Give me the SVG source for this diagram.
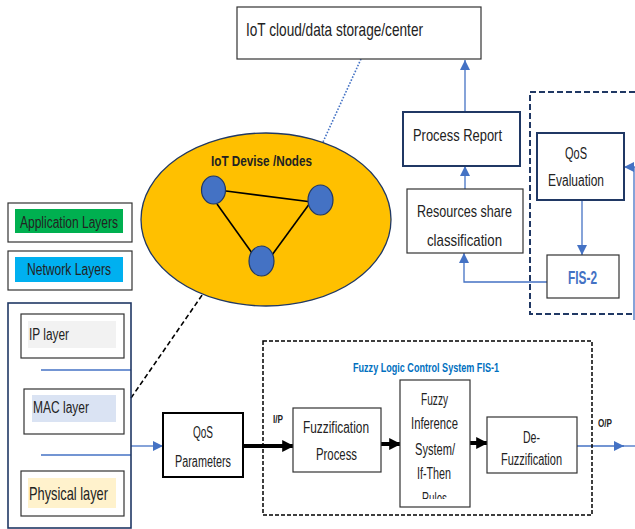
<svg xmlns="http://www.w3.org/2000/svg" width="635" height="529" viewBox="0 0 635 529">
<defs>
<style>
text{font-family:"Liberation Sans",Arial,sans-serif;fill:#222;}
.box{fill:#fff;stroke:#333;stroke-width:1.2;}
.nbox{fill:#fff;stroke:#203864;stroke-width:2;}
.blue{stroke:#4472C4;stroke-width:1.3;fill:none;}
.thick{stroke:#000;stroke-width:4;fill:none;}
.c{text-anchor:middle;}
.t16{font-size:16px;}
.t17{font-size:17px;}
</style>
<marker id="ab" viewBox="0 0 10 10" refX="10" refY="5" markerWidth="10" markerHeight="10" markerUnits="userSpaceOnUse" orient="auto">
<path d="M0,0 L10,5 L0,10 z" fill="#4472C4"/>
</marker>
<marker id="ak" viewBox="0 0 10 10" refX="9" refY="5" markerWidth="3" markerHeight="3.2" orient="auto">
<path d="M0,0 L10,5 L0,10 z" fill="#000"/>
</marker>
<clipPath id="cl"><rect x="400" y="380" width="70" height="119"/></clipPath>
</defs>
<rect width="635" height="529" fill="#fff"/>

<g id="connectors">
<line x1="131" y1="398" x2="207" y2="288" stroke="#000" stroke-width="1.6" stroke-dasharray="5,3"/>
<line x1="361" y1="59" x2="323" y2="142" stroke="#4472C4" stroke-width="1.6" stroke-dasharray="1.6,1.6"/>
<line x1="41" y1="370" x2="131" y2="370" class="blue"/>
<line x1="41" y1="455" x2="131" y2="455" class="blue"/>
<line x1="131" y1="446" x2="163" y2="446" class="blue" marker-end="url(#ab)"/>
<line x1="243" y1="446" x2="293" y2="446" class="thick" marker-end="url(#ak)"/>
<line x1="381" y1="444" x2="400" y2="444" class="thick" marker-end="url(#ak)"/>
<line x1="470" y1="443" x2="487" y2="443" class="thick" marker-end="url(#ak)"/>
<line x1="577" y1="446" x2="624" y2="446" class="blue" marker-end="url(#ab)"/>
<line x1="622" y1="446" x2="635" y2="446" class="blue"/>
<line x1="465" y1="112" x2="465" y2="60" class="blue" marker-end="url(#ab)"/>
<line x1="465" y1="189" x2="465" y2="166" class="blue" marker-end="url(#ab)"/>
<polyline points="547,282 464,282 464,253" class="blue" marker-end="url(#ab)"/>
<line x1="582" y1="200" x2="582" y2="255" class="blue" marker-end="url(#ab)"/>
<line x1="635" y1="167" x2="624" y2="167" class="blue" marker-end="url(#ab)"/>
<line x1="634" y1="167" x2="634" y2="320" class="blue"/>
</g>

<g id="app-layers">
<rect x="8" y="203" width="124" height="39" class="box"/>
<rect x="15" y="209" width="108" height="24" fill="#00B050"/>
<text x="20" y="228" class="t16" textLength="98" lengthAdjust="spacingAndGlyphs">Application Layers</text>
</g>
<g id="net-layers">
<rect x="8" y="251" width="124" height="39" class="box"/>
<rect x="15" y="257" width="108" height="25" fill="#00B0F0"/>
<text x="27" y="275" class="t16" textLength="84" lengthAdjust="spacingAndGlyphs">Network Layers</text>
</g>
<g id="layer-stack">
<rect x="8" y="303" width="123" height="225" fill="none" stroke="#203864" stroke-width="1.6"/>
</g>
<g id="ip-layer">
<rect x="21" y="314" width="103" height="44" class="box"/>
<rect x="28" y="321" width="88" height="27" fill="#F2F2F2"/>
<text x="29" y="340" class="t16" textLength="40" lengthAdjust="spacingAndGlyphs">IP layer</text>
</g>
<g id="mac-layer">
<rect x="24" y="389" width="100" height="45" class="box"/>
<rect x="32" y="395" width="84" height="27" fill="#DAE3F3"/>
<text x="33" y="413" class="t16" textLength="56" lengthAdjust="spacingAndGlyphs">MAC layer</text>
</g>
<g id="phy-layer">
<rect x="21" y="471" width="103" height="45" class="box"/>
<rect x="28" y="478" width="88" height="30" fill="#FFF2CC"/>
<text x="29" y="500" style="font-size:19px" textLength="79" lengthAdjust="spacingAndGlyphs">Physical layer</text>
</g>

<g id="iot-nodes">
<ellipse cx="266" cy="219.5" rx="125" ry="86.5" fill="#FFC000" stroke="#203864" stroke-width="1.3"/>
<text x="211" y="166" style="font-size:15px;font-weight:bold" textLength="101" lengthAdjust="spacingAndGlyphs">IoT Devise /Nodes</text>
<g stroke="#000" stroke-width="1.6">
<line x1="226" y1="191" x2="312" y2="202"/>
<line x1="217" y1="204" x2="252" y2="253"/>
<line x1="272" y1="255" x2="310" y2="203"/>
</g>
<g fill="#4472C4" stroke="#203864" stroke-width="1.2">
<ellipse cx="213.5" cy="190" rx="12" ry="14"/>
<ellipse cx="320.5" cy="200" rx="12.5" ry="15"/>
<ellipse cx="261.5" cy="261" rx="12.5" ry="15"/>
</g>
</g>

<g id="cloud">
<rect x="237" y="7" width="244" height="52" class="box"/>
<text x="246" y="36" style="font-size:19px" textLength="177" lengthAdjust="spacingAndGlyphs">IoT cloud/data storage/center</text>
</g>

<g id="process-report">
<rect x="403" y="112" width="117" height="54" class="nbox"/>
<text x="413" y="141" class="t17" textLength="89" lengthAdjust="spacingAndGlyphs">Process Report</text>
</g>
<g id="resources">
<rect x="407" y="189" width="116" height="64" class="box"/>
<text x="417" y="217" class="t17" textLength="95" lengthAdjust="spacingAndGlyphs">Resources share</text>
<text x="427" y="246" class="t17" textLength="75" lengthAdjust="spacingAndGlyphs">classification</text>
</g>

<g id="fis2-group">
<rect x="530" y="92" width="120" height="222" fill="none" stroke="#203864" stroke-width="2" stroke-dasharray="6,3"/>
</g>
<g id="qos-eval">
<rect x="537" y="133" width="87" height="67" class="nbox"/>
<text x="565" y="159" class="t16" textLength="22" lengthAdjust="spacingAndGlyphs">QoS</text>
<text x="548" y="186" class="t16" textLength="56" lengthAdjust="spacingAndGlyphs">Evaluation</text>
</g>
<g id="fis2">
<rect x="547" y="255" width="72" height="43" class="box"/>
<text x="568" y="284" style="font-size:19px;font-weight:bold;fill:#4472C4" textLength="29" lengthAdjust="spacingAndGlyphs">FIS-2</text>
</g>

<g id="qos-params">
<rect x="163" y="413" width="80" height="64" fill="#fff" stroke="#000" stroke-width="2"/>
<text x="193" y="438" class="t16" textLength="20" lengthAdjust="spacingAndGlyphs">QoS</text>
<text x="175" y="467" class="t16" textLength="56" lengthAdjust="spacingAndGlyphs">Parameters</text>
</g>

<g id="fis1">
<rect x="263" y="341" width="329" height="174" fill="none" stroke="#000" stroke-width="1.5" stroke-dasharray="4,2"/>
<text x="353" y="372" style="font-size:13px;font-weight:bold;fill:#0070C0" textLength="146" lengthAdjust="spacingAndGlyphs">Fuzzy Logic Control System FIS-1</text>
<text x="273" y="423" style="font-size:10px;font-weight:bold" textLength="10" lengthAdjust="spacingAndGlyphs">I/P</text>
<text x="598" y="427" style="font-size:10px;font-weight:bold" textLength="14" lengthAdjust="spacingAndGlyphs">O/P</text>
</g>
<g id="fuzzification">
<rect x="293" y="408" width="88" height="64" class="box"/>
<text x="303" y="433" class="t16" textLength="66" lengthAdjust="spacingAndGlyphs">Fuzzification</text>
<text x="316" y="460" class="t16" textLength="41" lengthAdjust="spacingAndGlyphs">Process</text>
</g>
<g id="inference">
<rect x="400" y="380" width="70" height="127" class="box"/>
<g clip-path="url(#cl)">
<text x="421" y="405" class="t16" textLength="27" lengthAdjust="spacingAndGlyphs">Fuzzy</text>
<text x="411" y="429" class="t16" textLength="47" lengthAdjust="spacingAndGlyphs">Inference</text>
<text x="415" y="455" class="t16" textLength="40" lengthAdjust="spacingAndGlyphs">System/</text>
<text x="417" y="479" class="t16" textLength="34" lengthAdjust="spacingAndGlyphs">If-Then</text>
<text x="422" y="504" class="t16" textLength="25" lengthAdjust="spacingAndGlyphs">Rules</text>
</g>
</g>
<g id="defuzz">
<rect x="487" y="417" width="90" height="56" class="box"/>
<text x="523" y="443" class="t16" textLength="17" lengthAdjust="spacingAndGlyphs">De-</text>
<text x="501" y="465" class="t16" textLength="61" lengthAdjust="spacingAndGlyphs">Fuzzification</text>
</g>
</svg>
